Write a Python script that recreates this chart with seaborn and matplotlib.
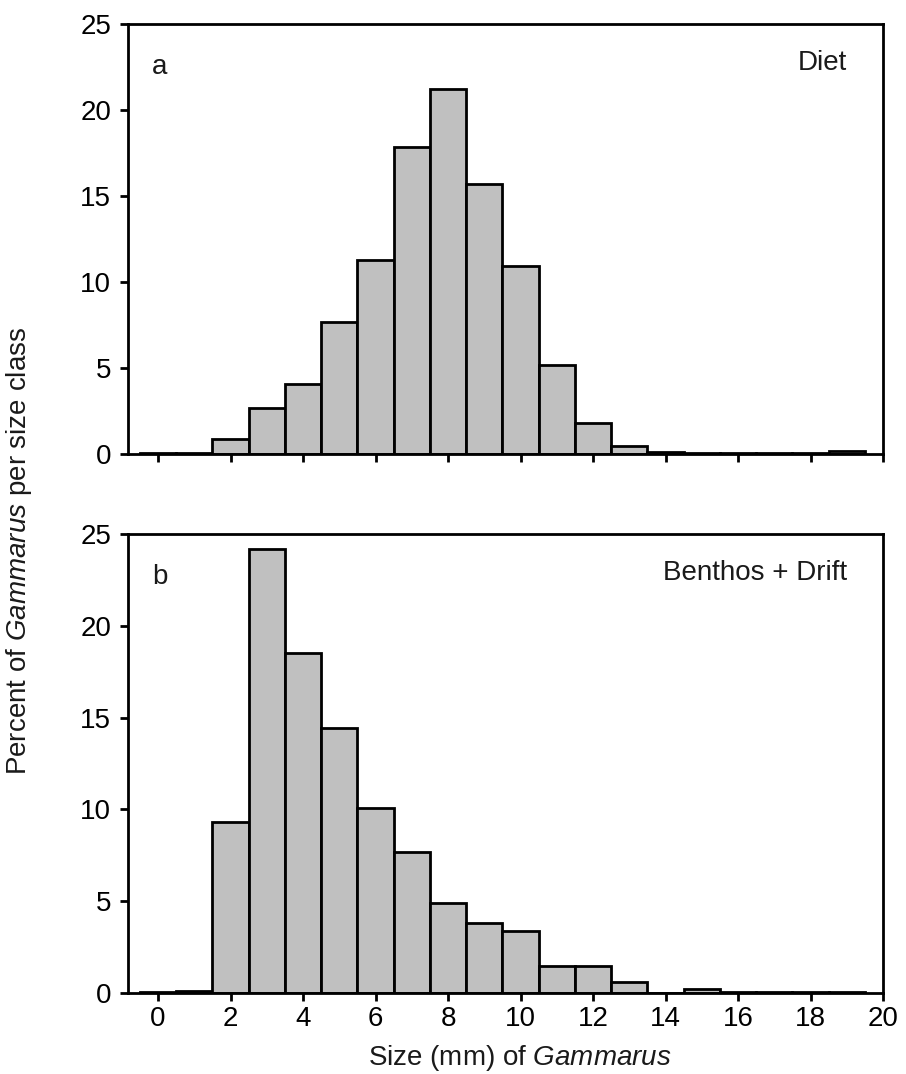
import matplotlib
matplotlib.use("Agg")
import matplotlib.pyplot as plt
import seaborn as sns
import numpy as np

# --- Data ---
size_mm = list(range(0, 20))
diet_pct = [0.05, 0.05, 0.85, 2.7, 4.05, 7.65, 11.3, 17.85, 21.2, 15.7,
            10.95, 5.15, 1.8, 0.45, 0.1, 0.05, 0.05, 0.05, 0.05, 0.2]
benthos_pct = [0.05, 0.1, 9.3, 24.2, 18.5, 14.45, 10.1, 7.7, 4.9, 3.8,
               3.35, 1.45, 1.45, 0.6, 0.02, 0.2, 0.05, 0.05, 0.05, 0.05]
panel_letters = ["a", "b"]
panel_titles = ["Diet", "Benthos + Drift"]
x_ticks = list(range(0, 21, 2))
y_ticks = [0, 5, 10, 15, 20, 25]

# --- Style ---
sns.set_style("ticks")
plt.rcParams['font.family'] = ['Liberation Sans', 'DejaVu Sans']
plt.rcParams['text.color'] = '#1a1a1a'
plt.rcParams['mathtext.fontset'] = 'custom'
plt.rcParams['mathtext.rm'] = 'Liberation Sans'
plt.rcParams['mathtext.it'] = 'Liberation Sans:italic'
FS = 20
W, H = 906, 1074

fig = plt.figure(figsize=(W / 100, H / 100), dpi=100)

def px_axes(left, top, right, bottom):
    return fig.add_axes([left / W, 1 - bottom / H, (right - left) / W, (bottom - top) / H])

ax_a = px_axes(128, 24, 883, 454)
ax_b = px_axes(128, 534, 883, 993)

for ax, vals, letter, title in zip([ax_a, ax_b], [diet_pct, benthos_pct], panel_letters, panel_titles):
    sns.barplot(x=size_mm, y=vals, native_scale=True, width=1.0, color="#c0c0c0",
                saturation=1, edgecolor="black", linewidth=2, ax=ax)
    ax.set_xlim(-0.83, 20)
    ax.set_ylim(0, 25)
    ax.set_xticks(x_ticks)
    ax.set_yticks(y_ticks)
    for sp in ax.spines.values():
        sp.set_linewidth(2)
        sp.set_color("black")
    ax.tick_params(direction="out", length=6, width=2, labelsize=FS, colors="black")
    ax.tick_params(axis="y", pad=6)
    ax.tick_params(axis="x", pad=3)
    ax.set_xlabel("")
    ax.set_ylabel("")
    # place the panel texts a fixed number of pixels below the top spine
    h_px = ax.get_position().height * H
    ax.text(0.032, 1 - 43 / h_px, letter, transform=ax.transAxes, fontsize=FS,
            ha="left", va="center")
    ax.text(0.952, 1 - 39 / h_px, title, transform=ax.transAxes, fontsize=FS,
            ha="right", va="center")

ax_a.tick_params(axis="x", labelbottom=False)

fig.text(520 / W, 1 - 1058 / H, r"Size (mm) of $\mathit{Gammarus}$", fontsize=FS,
         ha="center", va="center")
fig.text(19 / W, 1 - 551 / H, r"Percent of $\mathit{Gammarus}$ per size class", fontsize=FS,
         ha="center", va="center", rotation=90)

fig.savefig("out.png", dpi=100)
